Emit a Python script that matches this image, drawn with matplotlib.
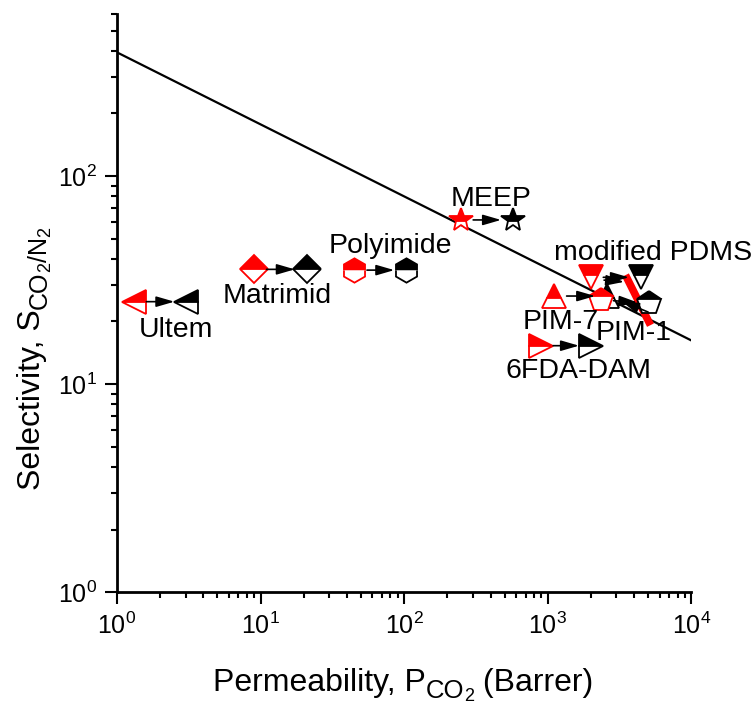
import matplotlib
matplotlib.use('Agg')
import matplotlib.pyplot as plt
from matplotlib.ticker import LogLocator, LogFormatterSciNotation, NullFormatter
from matplotlib.transforms import IdentityTransform

plt.rcParams['font.family'] = ['Liberation Sans', 'DejaVu Sans']
plt.rcParams['mathtext.fontset'] = 'custom'
plt.rcParams['mathtext.rm'] = 'Liberation Sans'
plt.rcParams['mathtext.it'] = 'Liberation Sans:italic'
plt.rcParams['mathtext.bf'] = 'Liberation Sans:bold'
plt.rcParams['mathtext.default'] = 'regular'

# ---------------- data ----------------
materials = ['Ultem', 'Matrimid', 'Polyimide', 'MEEP', 'modified PDMS',
             'PIM-7', 'PIM-1', '6FDA-DAM']
p_pristine = [1.31, 9.0, 45.0, 247, 1990, 1105, 2346, 891]
s_pristine = [24.9, 35.6, 35.3, 61.5, 32.6, 26.5, 25.4, 15.3]
p_modified = [3.03, 20.9, 103, 570, 4430, 2580, 5070, 1990]
s_modified = [24.9, 35.6, 35.3, 61.5, 32.6, 26.5, 24.5, 15.3]

label_p = [2.58, 13.1, 79.6, 402, 5400, 1236, 3984, 1623]
label_s = [18.2, 26.5, 46.1, 77.4, 42.7, 19.9, 17.7, 11.5]

# Robeson 2008 CO2/N2 upper bound end points
bound_p = [1, 1e4]
bound_s = [392.6, 16.2]

# extra overlapping marks in the PIM-1 / PDMS cluster
band_p = [3470, 5180]
band_s = [33.4, 19.2]
extra_from_p = [4988, 2462]
extra_from_s = [22.2, 31.6]
extra_to_p = [3236, 3394]
extra_to_s = [25.1, 31.0]

# axis label pieces: (text, font size, subscript drop in px)
xlabel_pieces = [('Permeability, P', 23, 0), ('CO', 18.5, 7), ('2', 13, 10),
                 (' (Barrer)', 23, 0)]
ylabel_pieces = [('Selectivity, S', 23, 0), ('CO', 18, 7), ('2', 13, 10),
                 ('/N', 18, 7), ('2', 13, 10)]

# ---------------- styles ----------------
marker_styles = ['<', 'D', 'h', '*', 'v', '^', 'p', '>']
marker_sizes = [17.5, 14, 17.5, 18, 17.5, 17.5, 17.5, 17.5]

W, H = 754, 705
fig = plt.figure(figsize=(W / 100, H / 100), dpi=100)
ax = fig.add_axes([0.1552, 0.1599, 0.9171 - 0.1552, 0.9801 - 0.1599])
ax.set_xscale('log')
ax.set_yscale('log')
ax.set_xlim(1, 1e4)
ax.set_ylim(1, 600)

ax.plot(bound_p, bound_s, color='black', lw=1.6, zorder=2)
ax.plot(band_p, band_s, color='#ff0000', lw=5.5, solid_capstyle='butt', zorder=2.5)

for i, name in enumerate(materials):
    ax.plot(p_pristine[i], s_pristine[i], linestyle='none', marker=marker_styles[i],
            ms=marker_sizes[i], fillstyle='top', markerfacecolor='#ff0000',
            markerfacecoloralt='white', markeredgecolor='#ff0000', mew=1.3,
            zorder=3, clip_on=False)
    ax.plot(p_modified[i], s_modified[i], linestyle='none', marker=marker_styles[i],
            ms=marker_sizes[i], fillstyle='top', markerfacecolor='black',
            markerfacecoloralt='white', markeredgecolor='black', mew=1.3,
            zorder=3, clip_on=False)
    ax.annotate('', xy=(p_modified[i], s_modified[i]),
                xytext=(p_pristine[i], s_pristine[i]),
                arrowprops=dict(arrowstyle='-|>,head_length=1.1,head_width=0.32',
                                color='black', lw=1.2, shrinkA=9, shrinkB=8.5,
                                mutation_scale=10),
                zorder=4)
    ax.text(label_p[i], label_s[i], name, ha='center', va='center',
            fontsize=20.5, clip_on=False, zorder=5)

for i in range(len(extra_from_p)):
    ax.annotate('', xy=(extra_to_p[i], extra_to_s[i]),
                xytext=(extra_from_p[i], extra_from_s[i]),
                arrowprops=dict(arrowstyle='-|>,head_length=1.1,head_width=0.32',
                                color='black', lw=1.2, shrinkA=0, shrinkB=0,
                                mutation_scale=10),
                zorder=4)

# axes styling
for side in ['top', 'right']:
    ax.spines[side].set_visible(False)
for side in ['left', 'bottom']:
    ax.spines[side].set_linewidth(2)

ax.xaxis.set_major_locator(LogLocator(base=10, numticks=10))
ax.xaxis.set_minor_locator(LogLocator(base=10, subs=range(2, 10), numticks=20))
ax.yaxis.set_major_locator(LogLocator(base=10, numticks=10))
ax.yaxis.set_minor_locator(LogLocator(base=10, subs=range(2, 10), numticks=20))
ax.xaxis.set_major_formatter(LogFormatterSciNotation())
ax.yaxis.set_major_formatter(LogFormatterSciNotation())
ax.xaxis.set_minor_formatter(NullFormatter())
ax.yaxis.set_minor_formatter(NullFormatter())

ax.tick_params(which='major', direction='out', length=8.5, width=1.5, labelsize=18, pad=6)
ax.tick_params(which='minor', direction='out', length=4.5, width=1.5)

# axis labels built from pieces so the subscripts keep their larger size
fig.canvas.draw()
renderer = fig.canvas.get_renderer()


def place_pieces(pieces, x0, y0, vertical):
    pos = 0.0
    for txt, size, drop in pieces:
        if vertical:
            t = fig.text(x0 + drop, y0 + pos, txt, fontsize=size, rotation=90,
                         rotation_mode='anchor', ha='left', va='baseline',
                         transform=IdentityTransform())
            pos += t.get_window_extent(renderer).height
        else:
            t = fig.text(x0 + pos, y0 - drop, txt, fontsize=size,
                         ha='left', va='baseline', transform=IdentityTransform())
            pos += t.get_window_extent(renderer).width


# x label: starts at x=213 px, baseline at 691 px from top
place_pieces(xlabel_pieces, 213, H - 691, vertical=False)
# y label: baseline at x=40 px, starts at 490 px from top
place_pieces(ylabel_pieces, 40, H - 490, vertical=True)

fig.savefig('out.png', dpi=100)
